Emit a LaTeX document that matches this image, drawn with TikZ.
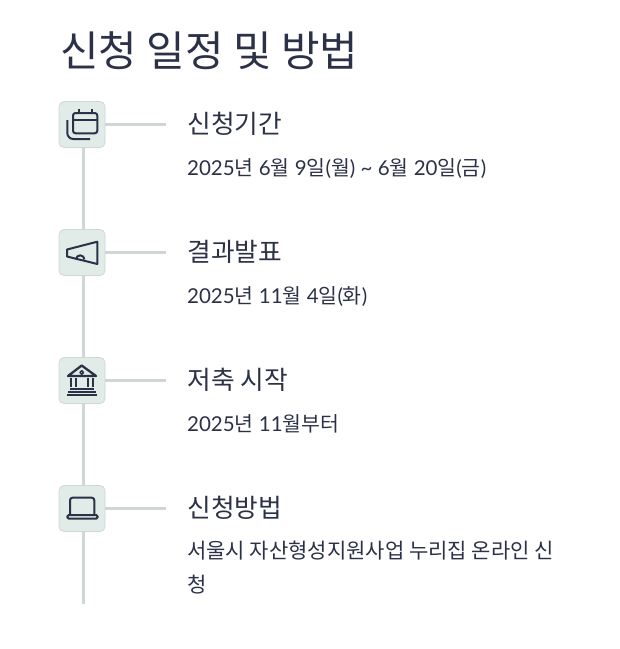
\documentclass[tikz,border=0pt]{standalone}
\usepackage{fontspec}
\setmainfont{Lato}
\newfontfamily\krfont{Noto Sans CJK KR}
\newcommand{\kr}[1]{{\krfont #1}}
\definecolor{inkblue}{HTML}{2B3146}
\definecolor{linegray}{HTML}{CDD8D5}
\definecolor{boxgreen}{HTML}{E1ECE8}
\tikzset{
    iconbox/.style={draw=linegray,fill=boxgreen,rounded corners=5pt,minimum width=46pt,minimum height=46pt,line width=0.8pt},
    trunk/.style={draw=linegray,line width=3pt},
    icon/.style={draw=inkblue,line width=2pt,line join=round},
    headtext/.style={anchor=base west,text=inkblue,inner sep=0pt,font=\fontsize{25.7}{30}\selectfont},
    datetext/.style={anchor=base west,text=inkblue,inner sep=0pt,font=\fontsize{20.5}{32}\selectfont},
    longtext/.style={anchor=base west,text=inkblue,inner sep=0pt,font=\fontsize{21}{32}\selectfont},
}
\begin{document}
\begin{tikzpicture}[x=1pt,y=-1pt]
    \useasboundingbox (0,0) rectangle (620,649);
    \node[anchor=base west,text=inkblue,font=\fontsize{41.9}{50}\selectfont,inner sep=0pt] (title) at (60,66) {\kr{신청 일정 및 방법}};
    % boxes
    \node[iconbox] (box1) at (82,124.5) {};
    \node[iconbox] (box2) at (82,252.5) {};
    \node[iconbox] (box3) at (82,380.5) {};
    \node[iconbox] (box4) at (82,508.5) {};
    \coordinate (end1) at (166,124.5);
    \coordinate (end2) at (166,252.5);
    \coordinate (end3) at (166,380.5);
    \coordinate (end4) at (166,508.5);
    \coordinate (bottom) at (83.3,604);
    \draw[trunk] (box1.east)--(end1);
    \draw[trunk] (box2.east)--(end2);
    \draw[trunk] (box3.east)--(end3);
    \draw[trunk] (box4.east)--(end4);
    \draw[trunk] ([xshift=1.3pt]box1.south)--([xshift=1.3pt]box2.north);
    \draw[trunk] ([xshift=1.3pt]box2.south)--([xshift=1.3pt]box3.north);
    \draw[trunk] ([xshift=1.3pt]box3.south)--([xshift=1.3pt]box4.north);
    \draw[trunk] ([xshift=1.3pt]box4.south)--(bottom);
    % calendar
    \draw[icon,rounded corners=2.5pt] (73,113) rectangle (97.3,133.3);
    \draw[icon] (73,120)--(97.3,120);
    \draw[icon] (79.3,109)--(79.3,113);
    \draw[icon] (91.7,109)--(91.7,113);
    \draw[icon,rounded corners=6pt] (67.3,120)--(67.3,139)--(90,139);
    % megaphone
    \draw[icon] (67,249.5)--(97.3,241.7)--(97.3,264)--(67,256.5)--cycle;
    \draw[icon] (76,259.5) arc (180:360:4.2);
    % bank
    \draw[icon,line width=2.3pt] (68,376)--(81.7,365.5)--(96,376)--cycle;
    \draw[icon,line width=1.5pt] (81.7,372.5) circle (1.8);
    \draw[icon] (70.5,378)--(70.5,387);
    \draw[icon] (76,378)--(76,387);
    \draw[icon] (87.7,378)--(87.7,387);
    \draw[icon] (93.3,378)--(93.3,387);
    \draw[icon] (70,388.5)--(94,388.5);
    \draw[icon] (68,391.7)--(96,391.7);
    \draw[icon,line width=2.3pt] (67,395)--(97,395);
    % laptop
    \draw[icon,rounded corners=2.5pt] (70,515)--(70,497.7)--(94.3,497.7)--(94.3,515);
    \draw[icon,rounded corners=1.5pt] (67.3,515)--(97.7,515)--(97.7,518.7)--(67.3,518.7)--cycle;
    % texts
    \node[headtext] (head1) at (187.5,133) {\kr{신청기간}};
    \node[datetext] (date1) at (187,175) {2025\kr{년} 6\kr{월} 9\kr{일}(\kr{월}) \string~ 6\kr{월} 20\kr{일}(\kr{금})};
    \node[headtext] (head2) at (187.5,261) {\kr{결과발표}};
    \node[datetext] (date2) at (187,303) {2025\kr{년} 11\kr{월} 4\kr{일}(\kr{화})};
    \node[headtext] (head3) at (187.5,389) {\kr{저축 시작}};
    \node[datetext] (date3) at (187,431) {2025\kr{년} 11\kr{월부터}};
    \node[headtext] (head4) at (187.5,517) {\kr{신청방법}};
    \node[longtext] (date4) at (187,558) {\kr{서울시 자산형성지원사업 누리집 온라인 신}};
    \node[longtext] (date5) at (187,592) {\kr{청}};
\end{tikzpicture}
\end{document}
